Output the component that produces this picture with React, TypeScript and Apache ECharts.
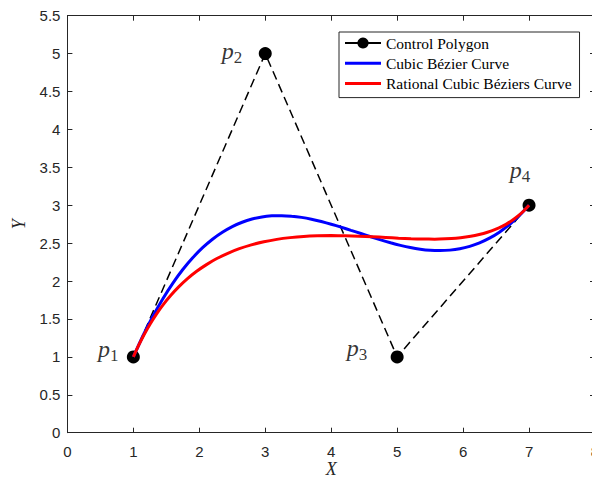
import React, { useEffect, useRef } from "react";
import * as echarts from "echarts";

const ctrlX = [1, 3, 5, 7];
const ctrlY = [1, 5, 1, 3];

const bezierX = [1, 1.15, 1.3, 1.45, 1.6, 1.75, 1.9, 2.05, 2.2, 2.35, 2.5, 2.65, 2.8, 2.95, 3.1, 3.25, 3.4, 3.55, 3.7, 3.85, 4.0,
  4.15, 4.3, 4.45, 4.6, 4.75, 4.9, 5.05, 5.2, 5.35, 5.5, 5.65, 5.8, 5.95, 6.1, 6.25, 6.4, 6.55, 6.7, 6.85, 7];
const bezierY = [1, 1.285, 1.542, 1.771, 1.974, 2.152, 2.307, 2.44, 2.552, 2.644, 2.719, 2.776, 2.818, 2.846, 2.86, 2.863, 2.856, 2.84, 2.816, 2.785, 2.75,
  2.711, 2.669, 2.627, 2.584, 2.543, 2.505, 2.471, 2.442, 2.42, 2.406, 2.402, 2.408, 2.426, 2.458, 2.504, 2.566, 2.645, 2.743, 2.861, 3];

const rationalX = [1, 1.078, 1.162, 1.253, 1.35, 1.456, 1.569, 1.691, 1.821, 1.96, 2.109, 2.266, 2.432, 2.607, 2.789, 2.979, 3.175, 3.376, 3.582, 3.79, 4.0,
  4.21, 4.418, 4.624, 4.825, 5.021, 5.211, 5.393, 5.568, 5.734, 5.891, 6.04, 6.179, 6.309, 6.431, 6.544, 6.65, 6.747, 6.838, 6.922, 7];
const rationalY = [1, 1.148, 1.292, 1.431, 1.564, 1.692, 1.812, 1.926, 2.032, 2.129, 2.217, 2.297, 2.366, 2.427, 2.477, 2.518, 2.55, 2.573, 2.589, 2.597, 2.6,
  2.598, 2.592, 2.584, 2.575, 2.566, 2.559, 2.554, 2.553, 2.557, 2.565, 2.58, 2.6, 2.627, 2.661, 2.701, 2.748, 2.802, 2.862, 2.928, 3];

const pointSubscripts = ["1", "2", "3", "4"];
const labelX = [0.464, 2.34, 4.235, 6.71];
const labelY = [1.1, 5.04, 1.11, 3.46];

const seriesNames = ["Control Polygon", "Cubic Bézier Curve", "Rational Cubic Béziers Curve"];

const xMin = 0, xMax = 8, xStep = 1;
const yMin = 0, yMax = 5.5, yStep = 0.5;

const zip = (xs: number[], ys: number[]) => xs.map((x, i) => [x, ys[i]]);

const AXIS_COLOR = "#262626";
const LINE_ICON = "path://M0,0M36,14M0,5.5L36,5.5L36,8.5L0,8.5Z";

export default function App() {
  const ref = useRef<HTMLDivElement>(null);
  useEffect(() => {
    if (!ref.current) return;
    const chart = echarts.init(ref.current, null, { renderer: "svg" });
    const tickLabel = { fontFamily: "Liberation Sans", fontSize: 15, color: AXIS_COLOR };
    const nameStyle = { fontFamily: "Liberation Serif", fontStyle: "italic", fontSize: 18, lineHeight: 16, color: AXIS_COLOR };
    const axisLine = { show: true, onZero: false, lineStyle: { color: AXIS_COLOR, width: 1 } };
    const axisTick = { show: true, inside: true, length: 5, lineStyle: { color: AXIS_COLOR, width: 1 } };
    chart.setOption({
      animation: false,
      grid: { left: 67.4, top: 15.7, right: -3, bottom: 45.3, containLabel: false, outerBoundsMode: "none" },
      xAxis: [
        {
          type: "value", min: xMin, max: xMax, interval: xStep, position: "bottom",
          axisLine, axisTick, splitLine: { show: false },
          axisLabel: { ...tickLabel, margin: 11 },
          name: "X", nameLocation: "middle", nameGap: 28, nameMoveOverlap: false, nameTextStyle: nameStyle,
        },
        {
          type: "value", min: xMin, max: xMax, interval: xStep, position: "top",
          axisLine, axisTick, splitLine: { show: false }, axisLabel: { show: false },
        },
      ],
      yAxis: [
        {
          type: "value", min: yMin, max: yMax, interval: yStep, position: "left",
          axisLine, axisTick, splitLine: { show: false },
          axisLabel: { ...tickLabel, margin: 7 },
          name: "Y", nameLocation: "middle", nameGap: 40, nameRotate: 90, nameTextStyle: nameStyle,
        },
        {
          type: "value", min: yMin, max: yMax, interval: yStep, position: "right",
          axisLine, axisTick, splitLine: { show: false }, axisLabel: { show: false },
        },
      ],
      legend: {
        data: [
          { name: seriesNames[0], lineStyle: { type: "solid" } },
          { name: seriesNames[1], icon: LINE_ICON },
          { name: seriesNames[2], icon: LINE_ICON },
        ],
        orient: "vertical",
        left: 339,
        top: 32,
        itemWidth: 36,
        itemHeight: 14,
        itemGap: 4.3,
        padding: [3, 8, 6, 5],
        borderColor: "#262626",
        borderWidth: 1,
        backgroundColor: "#ffffff",
        selectedMode: false,
        textStyle: { fontFamily: "Liberation Serif", fontSize: 15.5, color: "#000", lineHeight: 14 },
      },
      series: [
        {
          name: seriesNames[0], type: "line", data: zip(ctrlX, ctrlY),
          symbol: "circle", symbolSize: 13, showSymbol: true,
          itemStyle: { color: "#000" },
          lineStyle: { color: "#000", width: 1.5, type: [9, 5] },
          z: 2,
        },
        {
          name: seriesNames[1], type: "line", data: zip(bezierX, bezierY),
          symbol: "none", smooth: 0.2,
          itemStyle: { color: "#0000ff" },
          lineStyle: { color: "#0000ff", width: 3 },
          z: 3,
        },
        {
          name: seriesNames[2], type: "line", data: zip(rationalX, rationalY),
          symbol: "none", smooth: 0.2,
          itemStyle: { color: "#ff0000" },
          lineStyle: { color: "#ff0000", width: 3 },
          z: 4,
        },
        {
          name: "labels", type: "scatter", silent: true,
          data: pointSubscripts.map((s, i) => ({ name: s, value: [labelX[i], labelY[i]] })),
          symbolSize: 0.1,
          itemStyle: { color: "rgba(0,0,0,0)" },
          label: {
            show: true,
            position: [0, 0],
            align: "left",
            verticalAlign: "middle",
            formatter: (p: any) => `{p|p}{s|${p.name}}`,
            rich: {
              p: { fontFamily: "Liberation Serif", fontStyle: "italic", fontSize: 24, lineHeight: 30, color: "#000", verticalAlign: "middle" },
              s: { fontFamily: "Liberation Serif", fontSize: 17, lineHeight: 16, color: "#000", verticalAlign: "bottom" },
            },
          },
          z: 5,
        },
      ],
    });
    return () => chart.dispose();
  }, []);
  return <div ref={ref} style={{ position: "absolute", left: 0, top: 0, width: 592, height: 478, background: "#fff" }} />;
}
